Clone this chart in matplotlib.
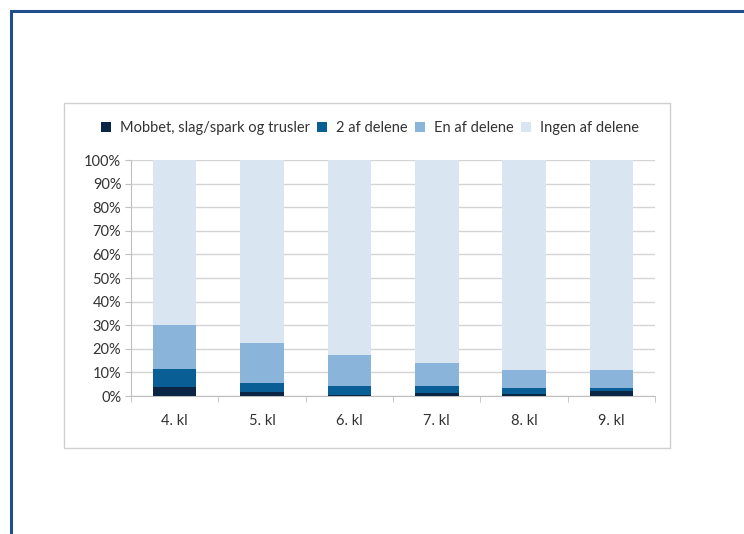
import matplotlib
matplotlib.use("Agg")
import matplotlib.pyplot as plt
from matplotlib.patches import Rectangle
import numpy as np

plt.rcParams['font.family'] = ['Lato', 'DejaVu Sans']

categories = ["4. kl", "5. kl", "6. kl", "7. kl", "8. kl", "9. kl"]
series_names = ["Mobbet, slag/spark og trusler", "2 af delene", "En af delene", "Ingen af delene"]
mobbet = [3.7, 1.6, 0.6, 1.1, 1.0, 2.1]
to_af = [7.6, 4.1, 3.5, 3.0, 2.6, 1.5]
en_af = [18.8, 16.9, 13.3, 9.9, 7.3, 7.3]
ingen = [100 - a - b - c for a, b, c in zip(mobbet, to_af, en_af)]
colors = ["#0b2545", "#0a5e96", "#8ab4da", "#d9e6f2"]

W, H = 744, 534
fig = plt.figure(figsize=(W / 100, H / 100), dpi=100)

# outer blue frame (top and left visible)
fig.add_artist(Rectangle((11 / W, -0.1), 1.2, (H - 11) / H + 0.1, transform=fig.transFigure,
                         fill=False, edgecolor="#1f4e8c", linewidth=2.2))
# chart area border
fig.add_artist(Rectangle((64 / W, 1 - 448 / H), (670 - 64) / W, (448 - 103) / H,
                         transform=fig.transFigure, fill=False, edgecolor="#d0d0d0", linewidth=1))

ax = fig.add_axes([131 / W, 1 - 396 / H, (655 - 131) / W, (396 - 160) / H])
x = np.arange(len(categories))
bottom = np.zeros(len(categories))
for name, vals, c in zip(series_names, [mobbet, to_af, en_af, ingen], colors):
    ax.bar(x, vals, bottom=bottom, width=0.5, color=c, label=name, zorder=3)
    bottom += np.array(vals)

ax.set_xlim(-0.5, len(categories) - 0.5)
ax.set_ylim(0, 100)
ax.set_yticks(np.arange(0, 101, 10))
ax.set_yticklabels([f"{v}%" for v in range(0, 101, 10)])
ax.set_xticks(x)
ax.set_xticklabels(categories)
ax.set_xticks(np.arange(-0.5, len(categories), 1), minor=True)
ax.tick_params(axis='x', which='major', length=0, pad=13, labelsize=10.5, colors="#333333")
ax.tick_params(axis='x', which='minor', length=4, color="#bfbfbf", direction='out')
ax.tick_params(axis='y', length=4, color="#bfbfbf", labelsize=10.5, colors="#333333", pad=3)
ax.grid(axis='y', color="#d4d4d4", linewidth=1, zorder=0)
for s in ["top", "right"]:
    ax.spines[s].set_visible(False)
for s in ["left", "bottom"]:
    ax.spines[s].set_color("#bfbfbf")

leg = fig.legend(loc="center", bbox_to_anchor=(370 / W, 1 - 128 / H), ncol=4, frameon=False,
                 fontsize=10.5, handlelength=0.7, handleheight=0.7, handletextpad=0.6,
                 columnspacing=0.5)
for t in leg.get_texts():
    t.set_color("#333333")

fig.savefig("out.png", dpi=100)
